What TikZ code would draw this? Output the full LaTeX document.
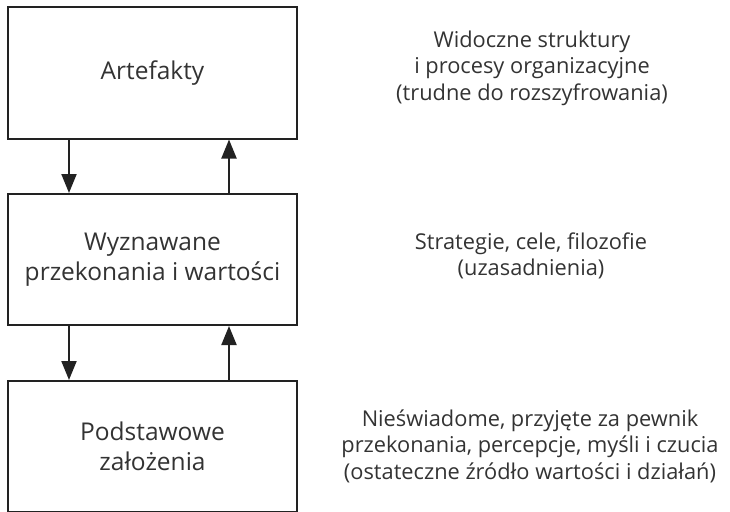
\documentclass[tikz,border=0pt]{standalone}
\usepackage{fontspec}
\setmainfont{Open Sans}
\usetikzlibrary{arrows.meta}
\definecolor{linec}{HTML}{222222}
\definecolor{textc}{HTML}{333333}
\tikzset{
  layerbox/.style={draw=linec, line width=2pt, minimum width=289pt, minimum height=131pt, inner sep=0pt, align=center, text=textc, font=\fontsize{24.5}{30}\selectfont},
  desc/.style={align=center, text=textc, inner sep=0pt, font=\fontsize{21.8}{26.5}\selectfont},
  flow/.style={draw=linec, line width=2pt, -{Triangle[width=15pt,length=19pt]}}
}
\begin{document}
\begin{tikzpicture}[x=1pt,y=-1pt]
\useasboundingbox (0,0) rectangle (730,511);
\node[layerbox] (art) at (152.5,73) {Artefakty};
\node[layerbox] (wyz) at (152.5,259.5) {Wyznawane\\przekonania i wartości};
\node[layerbox] (pod) at (152.5,446.5) {Podstawowe\\założenia};
\draw[flow] ([xshift=-83.5pt]art.south) -- ([xshift=-83.5pt]wyz.north);
\draw[flow] ([xshift=76.5pt]wyz.north) -- ([xshift=76.5pt]art.south);
\draw[flow] ([xshift=-83.5pt]wyz.south) -- ([xshift=-83.5pt]pod.north);
\draw[flow] ([xshift=76.5pt]pod.north) -- ([xshift=76.5pt]wyz.south);
\node[desc] (d1) at (532,68) {Widoczne struktury\\i procesy organizacyjne\\(trudne do rozszyfrowania)};
\node[desc] (d2) at (531,256) {Strategie, cele, filozofie\\(uzasadnienia)};
\node[desc] (d3) at (530,446) {Nieświadome, przyjęte za pewnik\\przekonania, percepcje, myśli i czucia\\(ostateczne źródło wartości i działań)};
\end{tikzpicture}
\end{document}
